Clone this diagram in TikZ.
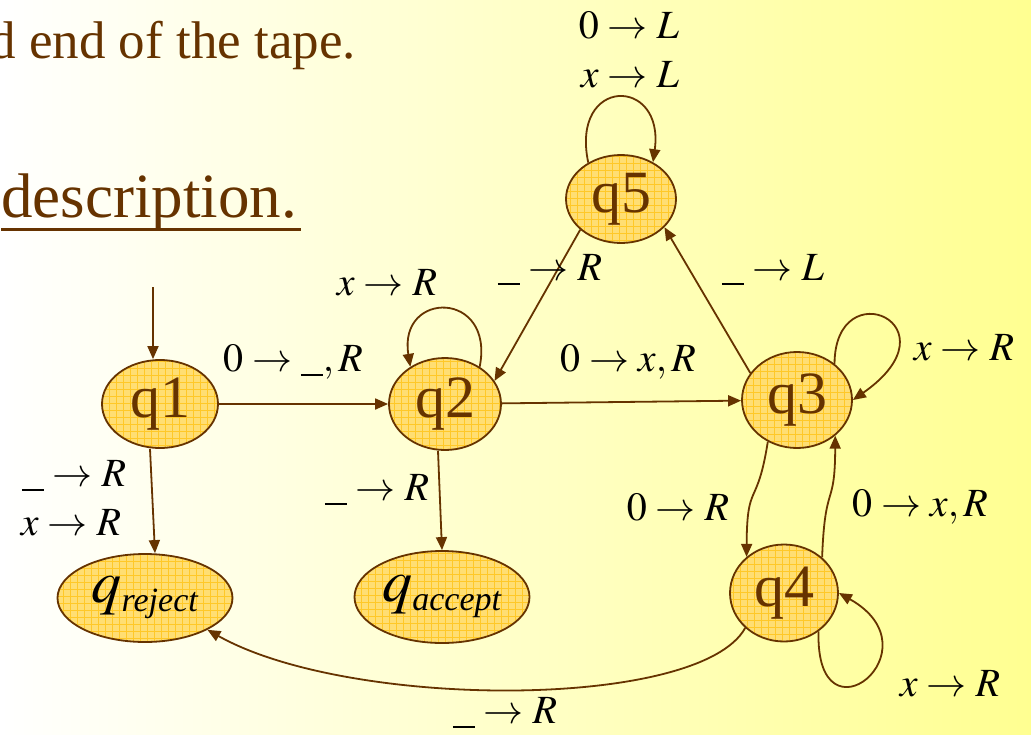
\documentclass[tikz,border=0pt]{standalone}
\usepackage{mathptmx}
\usepackage{fontspec}
\setmainfont{Liberation Serif}
\usepackage{tikz}
\usetikzlibrary{arrows.meta, shapes.geometric}
\DeclareMathSizes{40}{40}{28}{20}
\DeclareMathSizes{60}{60}{34}{25}
\definecolor{slidebrown}{RGB}{102,51,0}
\definecolor{statefill}{RGB}{255,222,115}
\definecolor{stategrid}{RGB}{255,200,40}
\definecolor{slideyellow}{RGB}{255,255,145}
\definecolor{slidepale}{RGB}{255,255,222}
\newcommand{\blank}{\rule[-0.12em]{0.55em}{0.05em}}
\newcommand{\subname}[1]{\mbox{\fontsize{34}{34}\selectfont\itshape #1}}
\tikzset{
  state/.style={
    ellipse,
    draw=slidebrown,
    line width=1.8pt,
    fill=statefill,
    inner sep=0pt,
    text=slidebrown,
    font=\fontsize{60}{60}\selectfont,
    path picture={
      \draw[stategrid, line width=0.5pt]
        (path picture bounding box.south west) grid[step=7pt]
        (path picture bounding box.north east);
    }
  },
  halt state/.style={
    state,
    text=black
  },
  trans/.style={
    -{Triangle[length=13pt, width=11pt]},
    line width=1.8pt,
    color=slidebrown
  },
  trans label/.style={
    font=\fontsize{40}{40}\selectfont,
    inner sep=0pt
  },
  slide text/.style={
    text=slidebrown,
    inner sep=0pt
  }
}

\begin{document}
\begin{tikzpicture}[x=1pt, y=-1pt]
    % Rahmen und Hintergrund
    \useasboundingbox (0,0) rectangle (1031,734);
    \clip (0,0) rectangle (1031,734);
    \shade[left color=white, middle color=slidepale, right color=slideyellow] (0,0) rectangle (1031,734);

    % Folientext
    \node[slide text, font=\fontsize{53}{53}\selectfont, anchor=base east] (tape) at (356,58) {d end of the tape.};
    \node[slide text, font=\fontsize{63}{63}\selectfont, anchor=base west] (desc) at (1,217) {description.};
    \draw[slidebrown, line width=3pt] ([yshift=-12pt]desc.base west) -- ([yshift=-12pt, xshift=4pt]desc.base east);

    % Zustaende
    \node[state, minimum width=116pt, minimum height=88pt] (q1) at (160,404) {q1};
    \node[state, minimum width=112pt, minimum height=92pt] (q2) at (445,404) {q2};
    \node[state, minimum width=110pt, minimum height=96pt] (q3) at (797,400) {q3};
    \node[state, minimum width=108pt, minimum height=97pt] (q4) at (784,593) {q4};
    \node[state, minimum width=110pt, minimum height=88pt] (q5) at (621,199) {q5};
    \node[halt state, minimum width=175pt, minimum height=88pt] (qrej) at (145,598) {$q_{\subname{reject}}$};
    \node[halt state, minimum width=175pt, minimum height=92pt] (qacc) at (442,597) {$q_{\subname{accept}}$};

    % Start
    \coordinate (start) at (153,287);
    \draw[trans] (start) -- (start |- q1.north);

    % gerade Uebergaenge
    \draw[trans] (q1) -- (q2);
    \draw[trans] (q2) -- (q3);
    \draw[trans] ([xshift=-10pt]q1.south) -- ([xshift=10pt]qrej.north);
    \draw[trans] ([xshift=-7pt]q2.south) -- (qacc.north);
    \draw[trans] (q5.217) -- (q2.25);
    \draw[trans] (q3.150) -- (q5.-33);

    % Schleifen
    \draw[trans] (q2.47) .. controls (495,290) and (398,290) .. (q2.133);
    \draw[trans] (q5.132) .. controls (570,76) and (665,76) .. (q5.49);
    \draw[trans] (q3.44) .. controls (835,270) and (960,325) .. (q3.0);
    \draw[trans] (q4.-48) .. controls (815,750) and (940,650) .. (q4.0);

    % gebogene Uebergaenge
    \draw[trans] (q3.235) .. controls (757,510) and (747,480) .. (q4.136);
    \draw[trans] (q4.43) .. controls (825,480) and (835,510) .. (q3.-43);
    \draw[trans] (q4.222) .. controls (700,710) and (350,710) .. (qrej.-27);

    % Beschriftungen
    \node[trans label] (l12) at (293,362) {$0\to\blank,R$};
    \node[trans label] (l23) at (628,362) {$0\to x,R$};
    \node[trans label] (l22) at (387,283) {$x\to R$};
    \node[trans label] (l52) at (550,270) {$\blank\to R$};
    \node[trans label] (l35) at (773,270) {$\blank\to L$};
    \node[trans label] (l55a) at (629,25) {$0\to L$};
    \node[trans label] (l55b) at (630,75) {$x\to L$};
    \node[trans label] (l33) at (964,348) {$x\to R$};
    \node[trans label] (l34) at (678,507) {$0\to R$};
    \node[trans label] (l43) at (920,507) {$0\to x,R$};
    \node[trans label] (l44) at (950,684) {$x\to R$};
    \node[trans label] (l4r) at (505,713) {$\blank\to R$};
    \node[trans label] (l1ra) at (74,476) {$\blank\to R$};
    \node[trans label] (l1rb) at (71,523) {$x\to R$};
    \node[trans label] (l2a) at (377,490) {$\blank\to R$};

  \end{tikzpicture}
\end{document}
